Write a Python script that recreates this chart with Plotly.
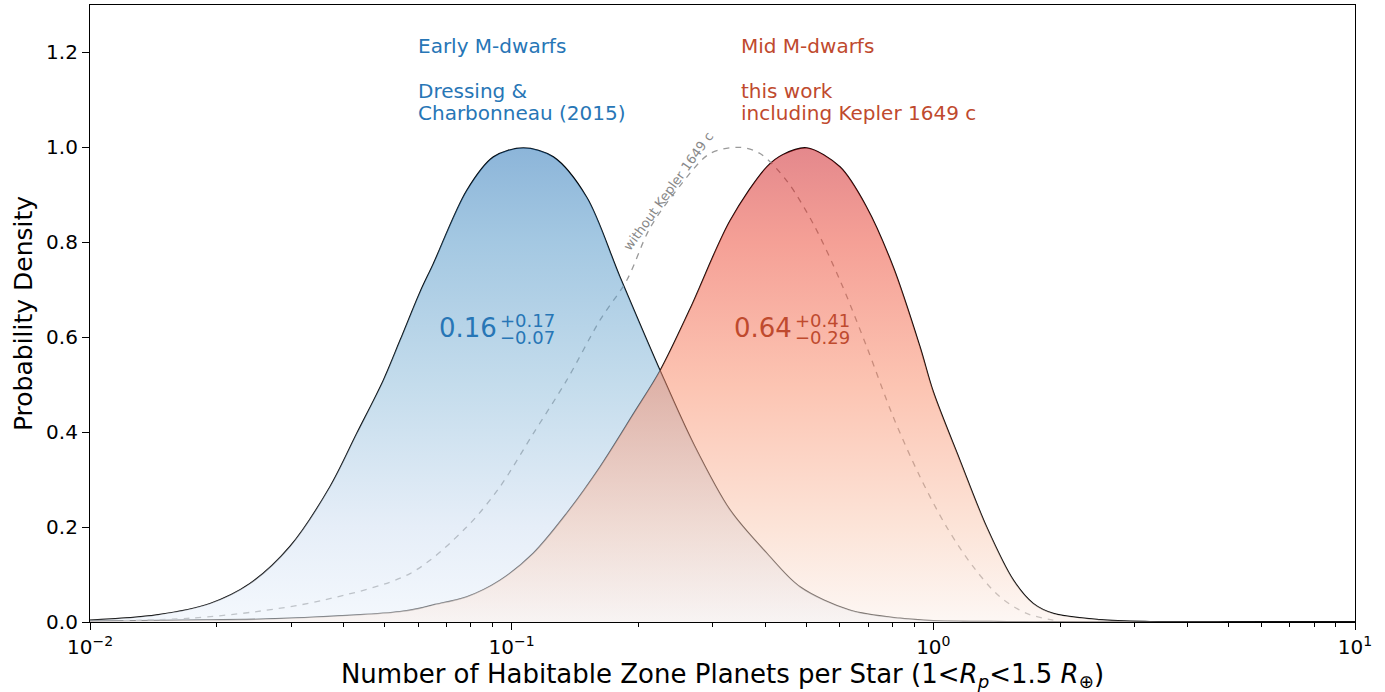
import plotly.graph_objects as go

# ---------------- data ----------------
# Early M-dwarfs (Dressing & Charbonneau 2015) posterior, x = occurrence rate
blue_x = [0.010, 0.01439, 0.01926, 0.02395, 0.02979, 0.03707, 0.0429, 0.0496, 0.0544, 0.0606,
          0.0652, 0.0782, 0.0905, 0.1066, 0.1256, 0.1507, 0.1807, 0.2249, 0.2698, 0.3296,
          0.4027, 0.4831, 0.6339, 0.8337, 1.0, 1.5, 2.5, 10.0]
blue_y = [0.004, 0.015, 0.039, 0.081, 0.159, 0.285, 0.397, 0.509, 0.594, 0.695,
          0.755, 0.909, 0.980, 0.999, 0.980, 0.895, 0.727, 0.530, 0.376, 0.236,
          0.145, 0.074, 0.025, 0.008, 0.003, 0.001, 0.0003, 0.0]

# Mid M-dwarfs, this work including Kepler 1649 c
red_x = [0.010, 0.0167, 0.0254, 0.0429, 0.0543, 0.0606, 0.0652, 0.0782, 0.0938, 0.1125,
         0.1350, 0.1620, 0.1945, 0.2249, 0.2649, 0.3296, 0.4027, 0.4400, 0.5012,
         0.6006, 0.6950, 0.8035, 0.9298, 1.0, 1.1561, 1.3383, 1.5488, 1.7258, 1.9259,
         2.4831, 3.2659, 5.0, 10.0]
red_y = [0.002, 0.004, 0.006, 0.015, 0.022, 0.029, 0.036, 0.053, 0.088, 0.145,
         0.229, 0.327, 0.439, 0.530, 0.660, 0.846, 0.959, 0.985, 0.999,
         0.959, 0.874, 0.748, 0.580, 0.485, 0.341, 0.200, 0.088, 0.039, 0.018,
         0.005, 0.001, 0.0002, 0.0]

# Mid M-dwarfs without Kepler 1649 c
dash_x = [0.0120, 0.01726, 0.02485, 0.03575, 0.0574, 0.0782, 0.0938, 0.1125, 0.1350, 0.1620,
          0.1875, 0.2128, 0.2512, 0.2953, 0.3480, 0.3882, 0.4487, 0.5191, 0.6006, 0.6950,
          0.8035, 0.9298, 1.0757, 1.2445, 1.4388, 1.6650, 1.9260]
dash_y = [0.003, 0.008, 0.022, 0.046, 0.102, 0.200, 0.285, 0.397, 0.509, 0.636,
          0.720, 0.830, 0.920, 0.987, 1.000, 0.987, 0.930, 0.839, 0.720, 0.580,
          0.432, 0.306, 0.200, 0.116, 0.053, 0.018, 0.004]

x_tickvals = [0.01, 0.1, 1, 10]
x_ticktext = ["10<sup>\u22122</sup>", "10<sup>\u22121</sup>", "10<sup>0</sup>", "10<sup>1</sup>"]
x_minor = [k * 10 ** e for e in (-2, -1, 0) for k in range(2, 10)]

BLUE_TXT = "#2776b6"
RED_TXT = "#bf4a2e"
FONT = "DejaVu Sans"

blue_scale = [[0.0, "rgba(233,241,251,0.5)"], [0.2, "rgba(205,221,241,0.5)"],
              [0.5, "rgba(137,185,217,0.5)"], [0.8, "rgba(73,145,197,0.5)"],
              [1.0, "rgba(25,107,179,0.5)"]]
red_scale = [[0.0, "rgba(251,239,233,0.5)"], [0.2, "rgba(249,201,177,0.5)"],
             [0.5, "rgba(249,137,101,0.5)"], [0.8, "rgba(235,65,45,0.5)"],
             [1.0, "rgba(201,17,25,0.5)"]]

SMOOTH = 0.9

fig = go.Figure()
# outlines first (so the translucent fills sit on top of the other curve's outline)
fig.add_trace(go.Scatter(x=blue_x, y=blue_y, mode="lines",
                         line=dict(color="black", width=1.3, shape="spline", smoothing=SMOOTH),
                         hoverinfo="skip", showlegend=False))
fig.add_trace(go.Scatter(x=red_x, y=red_y, mode="lines",
                         line=dict(color="black", width=1.3, shape="spline", smoothing=SMOOTH),
                         hoverinfo="skip", showlegend=False))
fig.add_trace(go.Scatter(x=dash_x, y=dash_y, mode="lines",
                         line=dict(color="#9a9a9a", width=1.3, dash="6px,6px", shape="spline",
                                   smoothing=SMOOTH),
                         hoverinfo="skip", showlegend=False))
# gradient fills
fig.add_trace(go.Scatter(x=blue_x, y=blue_y, mode="lines",
                         line=dict(width=0, shape="spline", smoothing=SMOOTH),
                         fill="tozeroy",
                         fillgradient=dict(type="vertical", colorscale=blue_scale, start=0, stop=1),
                         hoverinfo="skip", showlegend=False))
fig.add_trace(go.Scatter(x=red_x, y=red_y, mode="lines",
                         line=dict(width=0, shape="spline", smoothing=SMOOTH),
                         fill="tozeroy",
                         fillgradient=dict(type="vertical", colorscale=red_scale, start=0, stop=1),
                         hoverinfo="skip", showlegend=False))


def lx(px):
    return -2 + (px - 90) / 421.67


def dy(py):
    return (622 - py) / 475


ann = []


def add(text, px, py, color, size, xanchor="left", yanchor="middle", angle=0):
    ann.append(dict(text=text, x=lx(px), y=dy(py), xref="x", yref="y", showarrow=False,
                    xanchor=xanchor, yanchor=yanchor, textangle=angle, align="left",
                    font=dict(family=FONT, size=size, color=color)))


add("Early M-dwarfs", 416, 46, BLUE_TXT, 20)
add("Dressing &amp;", 416, 91, BLUE_TXT, 20)
add("Charbonneau (2015)", 416, 113, BLUE_TXT, 20)
add("Mid M-dwarfs", 739, 46, RED_TXT, 20)
add("this work", 739, 91, RED_TXT, 20)
add("including Kepler 1649 c", 739, 113, RED_TXT, 20)
add("0.16", 437, 328, BLUE_TXT, 26)
add("+0.17", 498, 320, BLUE_TXT, 18)
add("\u22120.07", 498, 337, BLUE_TXT, 18)
add("0.64", 732, 328, RED_TXT, 26)
add("+0.41", 793, 320, RED_TXT, 18)
add("\u22120.29", 793, 337, RED_TXT, 18)
add("without Kepler 1649 c", 668, 191, "#888888", 13, xanchor="center", angle=-54)

fig.update_layout(
    width=1385, height=692,
    margin=dict(l=90, r=30, t=5, b=70),
    paper_bgcolor="white", plot_bgcolor="white",
    font=dict(family=FONT, size=20, color="black"),
    annotations=ann,
    xaxis=dict(type="log", range=[-2, 1], tickmode="array", tickvals=x_tickvals, ticktext=x_ticktext,
               ticks="outside", ticklen=7, tickwidth=1.2, tickcolor="black",
               showline=True, linecolor="black", linewidth=1.2, mirror=True,
               showgrid=False, zeroline=False,
               minor=dict(tickmode="array", tickvals=x_minor, ticks="outside", ticklen=4,
                          tickwidth=1, tickcolor="black", showgrid=False),
               title=dict(text="Number of Habitable Zone Planets per Star (1&lt;<i>R</i><sub><i>p</i></sub>&lt;1.5 <i>R</i><sub>\u2295</sub>)",
                          font=dict(size=26), standoff=8),
               tickfont=dict(size=20)),
    yaxis=dict(range=[0, 1.3], tickmode="linear", tick0=0, dtick=0.2, tickformat=".1f",
               ticks="outside", ticklen=7, tickwidth=1.2, tickcolor="black",
               showline=True, linecolor="black", linewidth=1.2, mirror=True,
               showgrid=False, zeroline=False,
               title=dict(text="Probability Density", font=dict(size=25), standoff=6),
               tickfont=dict(size=20)),
)

fig.write_html("out.html", config={"displayModeBar": False},
               post_script="document.body.style.margin='0px';")
